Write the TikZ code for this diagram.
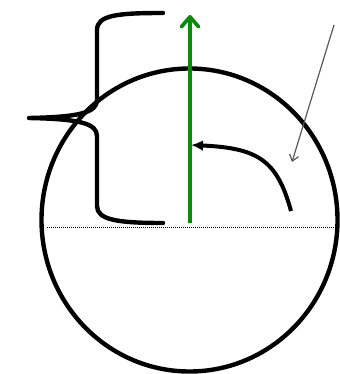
\documentclass[tikz,border=0pt]{standalone}
\usepackage{tikz}
\usetikzlibrary{arrows.meta}

\begin{document}
\begin{tikzpicture}[x=0.75pt,y=-0.75pt,
    heavy/.style={line width=3.3pt, line cap=round},
    greenarrow/.style={line width=2.8pt, draw={rgb,255:red,10;green,140;blue,10},
      -{Straight Barb[length=7.5pt,width=13pt,round]}},
    turnarrow/.style={line width=3pt, -{Latex[length=9pt,width=8pt]}},
    pointer/.style={line width=0.9pt, draw=black!65, -{Straight Barb[length=4.5pt,width=7pt]}}]
    \useasboundingbox (0,0) rectangle (339,374);
    % ---- Sphere ----
    \draw[heavy] (189.5,220) ellipse [x radius=148, y radius=151.5];
    \draw[densely dotted, line width=0.5pt] (47,227) -- (335,227);
    % ---- Brace ----
    \draw[heavy, line join=round]
      (163,13) .. controls (118,13) and (97,15) .. (97,30) -- (97,100)
      .. controls (97,113) and (78,117) .. (29,118)
      .. controls (78,119) and (97,123) .. (97,136) -- (97,206)
      .. controls (97,220) and (118,223) .. (163,223);
    % ---- Axis ----
    \coordinate (axisbase) at (190,223);
    \coordinate (axistop) at (190,15);
    \draw[greenarrow] (axisbase) -- (axistop);
    % ---- Rotation ----
    \coordinate (turnstart) at (291,211);
    \coordinate (turnend) at (191,145);
    \draw[turnarrow] (turnstart) .. controls (277,160) and (258,148) .. (turnend);
    % ---- Pointer ----
    \coordinate (pointfrom) at (334,25);
    \coordinate (pointto) at (292,162);
    \draw[pointer] (pointfrom) -- (pointto);
\end{tikzpicture}
\end{document}
